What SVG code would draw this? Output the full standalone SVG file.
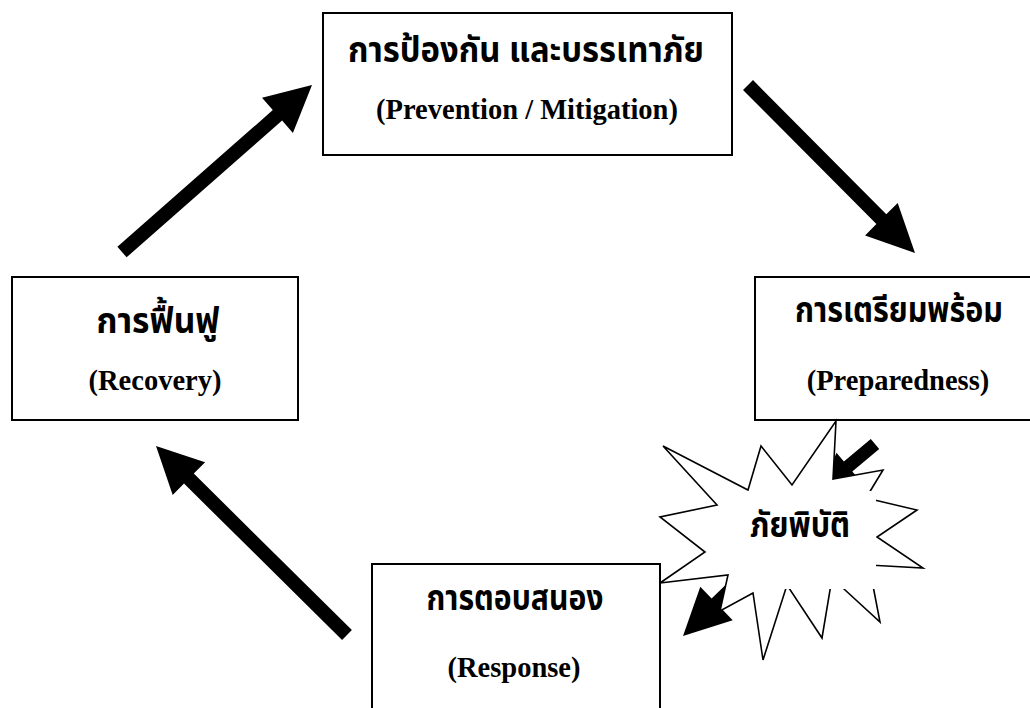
<svg xmlns="http://www.w3.org/2000/svg" width="1030" height="708" viewBox="0 0 1030 708">
<style>
.box{fill:#fff;stroke:#000;stroke-width:2}
.th{font-family:'Noto Sans Thai','Noto Sans','DejaVu Sans',sans-serif;font-weight:bold;font-size:35px;fill:#000;text-anchor:middle}
.en{font-family:'Liberation Serif','Times New Roman',serif;font-weight:bold;font-size:28.5px;fill:#000;text-anchor:middle}
.arr{fill:#000;stroke:none}
.burst{fill:#fff;stroke:#000;stroke-width:1.6;stroke-linejoin:miter}
</style>
<rect width="1030" height="708" fill="#fff"/>
<g id="prevention">
<rect class="box" x="323" y="13" width="409" height="142"/>
<text class="th" x="526" y="62" textLength="356" lengthAdjust="spacingAndGlyphs">การป้องกัน และบรรเทาภัย</text>
<text class="en" x="527" y="119">(Prevention / Mitigation)</text>
</g>
<g id="recovery">
<rect class="box" x="12" y="277" width="286" height="143"/>
<text class="th" x="158" y="333" textLength="123" lengthAdjust="spacingAndGlyphs">การฟื้นฟู</text>
<text class="en" x="155" y="390">(Recovery)</text>
</g>
<g id="preparedness">
<rect class="box" x="755" y="277" width="290" height="143"/>
<text class="th" x="899" y="322" textLength="208" lengthAdjust="spacingAndGlyphs">การเตรียมพร้อม</text>
<text class="en" x="898" y="390">(Preparedness)</text>
</g>
<g id="response">
<rect class="box" x="372" y="564" width="288" height="150"/>
<text class="th" x="515" y="610" textLength="177" lengthAdjust="spacingAndGlyphs">การตอบสนอง</text>
<text class="en" x="514" y="677">(Response)</text>
</g>
<g id="connectors">
<polygon class="arr" points="126.6,257.3 282.1,120.6 292.9,133.0 312,85 262.0,97.8 272.8,110.1 117.4,246.7"/>
<polygon class="arr" points="743.0,89.9 876.4,224.1 865.1,235.4 915,253 897.7,203.0 886.3,214.2 753.0,80.1"/>
<polygon class="arr" points="351.9,630.0 193.8,473.6 205.1,462.2 156,446 172.7,494.9 184.0,483.6 342.1,640.0"/>
<polygon class="arr" points="870.8,439.0 843.9,461.5 836.5,452.7 821.2,489.0 859.7,480.3 852.3,471.5 879.2,449.0"/>
<polygon class="arr" points="754.6,556.7 711.6,598.5 700.3,586.8 683,636 732.7,620.2 721.4,608.5 764.4,566.7"/>
</g>
<g id="disaster">
<polygon class="burst" points="663,446 748,490 761,446 792,485 836,421 833,479 883,470 866,498 917,510 877,537 923,568 869,565 880,622 832,578 822,638 787,585 763,660 753,593 720,611 728,575 660,583 705,552 660,517 717,505"/>
<rect x="735" y="491" width="141" height="98" fill="#fff"/>
<text class="th" x="800" y="537" textLength="100" lengthAdjust="spacingAndGlyphs">ภัยพิบัติ</text>
</g>
</svg>
